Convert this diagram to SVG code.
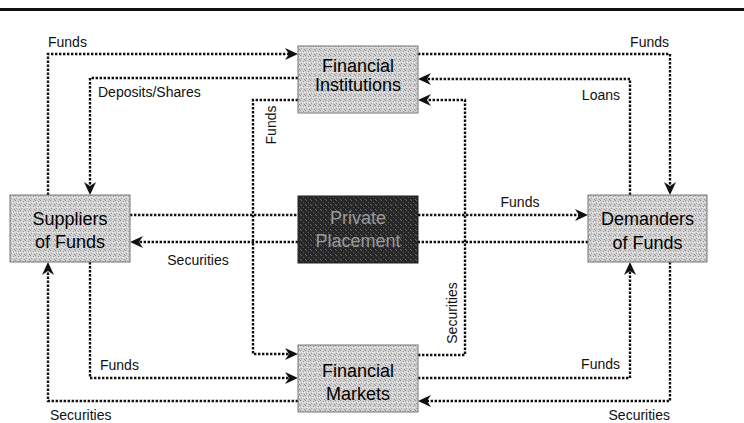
<svg xmlns="http://www.w3.org/2000/svg" width="744" height="423" viewBox="0 0 744 423">
<defs>
<style>
.c{fill:none;stroke:#111;stroke-width:2.4;stroke-dasharray:2.4 1.6}
.lbl{font-family:"Liberation Sans",Arial,sans-serif;font-size:14px;fill:#111}
.nt{font-family:"Liberation Sans",Arial,sans-serif;font-size:18px;text-anchor:middle;fill:#000}
.pt{font-family:"Liberation Sans",Arial,sans-serif;font-size:18px;text-anchor:middle;fill:#9a9a9a}
.box{fill:url(#grey);stroke:#777;stroke-width:1}
</style>
<pattern id="grey" width="5" height="5" patternUnits="userSpaceOnUse">
<rect width="5" height="5" fill="#d2d2d2"/>
<rect x="0" y="0" width="1" height="1" fill="#8c8c8c"/>
<rect x="3" y="1" width="1" height="1" fill="#9a9a9a"/>
<rect x="1" y="3" width="1" height="1" fill="#a0a0a0"/>
<rect x="4" y="4" width="1" height="1" fill="#8c8c8c"/>
<rect x="2" y="2" width="1" height="1" fill="#f2f2f2"/>
<rect x="4" y="2" width="1" height="1" fill="#ececec"/>
</pattern>
<pattern id="dark" width="5" height="5" patternUnits="userSpaceOnUse">
<rect width="5" height="5" fill="#272727"/>
<rect x="1" y="0" width="1" height="1" fill="#6a6a6a"/>
<rect x="3" y="2" width="1" height="1" fill="#5a5a5a"/>
<rect x="0" y="4" width="1" height="1" fill="#707070"/>
</pattern>
<marker id="ah" viewBox="0 -6 13 12" refX="4" refY="0" markerWidth="13" markerHeight="12" markerUnits="userSpaceOnUse" orient="auto">
<path d="M0,-6 L13,0 L0,6 L4,0 z" fill="#111"/>
</marker>
</defs>
<rect x="0" y="8" width="744" height="3" fill="#111"/>
<g id="connectors">
<path class="c" d="M48,195 V54 H289" marker-end="url(#ah)"/>
<path class="c" d="M298,78 H90 V186" marker-end="url(#ah)"/>
<path class="c" d="M298,100 H253 V354 H289" marker-end="url(#ah)"/>
<path class="c" d="M418,54 H670 V186" marker-end="url(#ah)"/>
<path class="c" d="M630,195 V79 H427" marker-end="url(#ah)"/>
<path class="c" d="M418,355 H465 V100 H427" marker-end="url(#ah)"/>
<path class="c" d="M130,215 H298"/>
<path class="c" d="M418,215 H579" marker-end="url(#ah)"/>
<path class="c" d="M588,242 H418"/>
<path class="c" d="M298,242 H139" marker-end="url(#ah)"/>
<path class="c" d="M90,262 V378 H289" marker-end="url(#ah)"/>
<path class="c" d="M298,401 H48 V271" marker-end="url(#ah)"/>
<path class="c" d="M418,378 H630 V271" marker-end="url(#ah)"/>
<path class="c" d="M670,262 V401 H427" marker-end="url(#ah)"/>
<text class="lbl" x="48" y="47">Funds</text>
<text class="lbl" x="98" y="97">Deposits/Shares</text>
<text class="lbl" transform="translate(276,125) rotate(-90)" text-anchor="middle">Funds</text>
<text class="lbl" x="669" y="47" text-anchor="end">Funds</text>
<text class="lbl" x="620" y="100" text-anchor="end">Loans</text>
<text class="lbl" transform="translate(457,313) rotate(-90)" text-anchor="middle">Securities</text>
<text class="lbl" x="520" y="207" text-anchor="middle">Funds</text>
<text class="lbl" x="198" y="265" text-anchor="middle">Securities</text>
<text class="lbl" x="100" y="370">Funds</text>
<text class="lbl" x="50" y="420">Securities</text>
<text class="lbl" x="620" y="369" text-anchor="end">Funds</text>
<text class="lbl" x="670" y="420" text-anchor="end">Securities</text>
</g>
<g id="financial-institutions">
<rect class="box" x="298" y="46" width="120" height="67"/>
<text class="nt" x="358" y="72">Financial</text>
<text class="nt" x="358" y="91">Institutions</text>
</g>
<g id="suppliers">
<rect class="box" x="10" y="195" width="120" height="67"/>
<text class="nt" x="70" y="225">Suppliers</text>
<text class="nt" x="70" y="248">of Funds</text>
</g>
<g id="private-placement">
<rect x="298" y="196" width="120" height="67" fill="url(#dark)" stroke="#222" stroke-width="1"/>
<text class="pt" x="358" y="224">Private</text>
<text class="pt" x="358" y="247">Placement</text>
</g>
<g id="demanders">
<rect class="box" x="588" y="195" width="119" height="67"/>
<text class="nt" x="647.5" y="225">Demanders</text>
<text class="nt" x="647.5" y="249">of Funds</text>
</g>
<g id="financial-markets">
<rect class="box" x="298" y="345" width="120" height="67"/>
<text class="nt" x="358" y="377">Financial</text>
<text class="nt" x="358" y="400">Markets</text>
</g>
</svg>
